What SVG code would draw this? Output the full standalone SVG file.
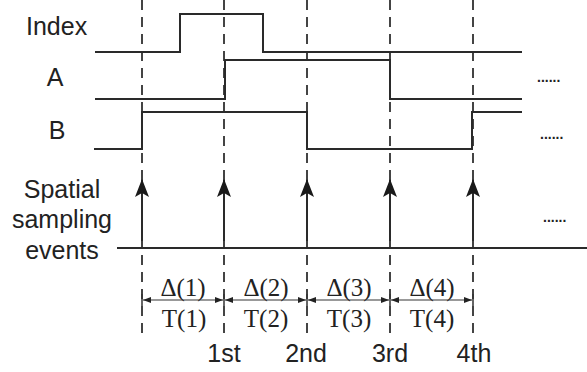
<svg xmlns="http://www.w3.org/2000/svg" width="587" height="372" viewBox="0 0 587 372">
<defs>
<style>
.lbl{font-family:"Liberation Sans",Arial,sans-serif;font-size:25px;fill:#222}
.math{font-family:"Liberation Serif","Times New Roman",serif;font-size:25px;fill:#222}
.dots{font-family:"Liberation Sans",Arial,sans-serif;font-size:14px;fill:#222;font-weight:bold}
.wave{fill:none;stroke:#2a2a2a;stroke-width:2}
.dash{stroke:#444;stroke-width:2;stroke-dasharray:10 7}
.arr{stroke:#2a2a2a;stroke-width:2}
.dim{stroke:#777;stroke-width:1.5}
.tick{stroke:#333;stroke-width:1.5}
</style>
<marker id="ah" viewBox="0 0 18 14" refX="17" refY="7" markerWidth="18" markerHeight="14" markerUnits="userSpaceOnUse" orient="auto">
<path d="M18 7 L0 0 L4 7 L0 14 Z" fill="#1a1a1a"/>
</marker>
<marker id="dh" viewBox="0 0 8 6" refX="8" refY="3" markerWidth="8" markerHeight="6" markerUnits="userSpaceOnUse" orient="auto-start-reverse">
<path d="M0 0 L8 3 L0 6 Z" fill="#222"/>
</marker>
</defs>
<rect width="587" height="372" fill="#fff"/>
<g id="guides">
<line class="dash" x1="142" y1="0" x2="142" y2="340"/>
<line class="dash" x1="224" y1="0" x2="224" y2="340"/>
<line class="dash" x1="307" y1="0" x2="307" y2="340"/>
<line class="dash" x1="390" y1="0" x2="390" y2="340"/>
<line class="dash" x1="473" y1="0" x2="473" y2="340"/>
</g>
<g id="index">
<text class="lbl" x="26" y="35">Index</text>
<polyline class="wave" points="95,52 180,52 180,14 263,14 263,52 522,52"/>
</g>
<g id="signalA">
<text class="lbl" x="55" y="86" text-anchor="middle">A</text>
<polyline class="wave" points="95,99 225,99 225,60 390,60 390,99 522,99"/>
<text class="dots" x="537" y="82">......</text>
</g>
<g id="signalB">
<text class="lbl" x="57" y="139" text-anchor="middle">B</text>
<polyline class="wave" points="94,149 142,149 142,112 307,112 307,149 472,149 472,112 522,112"/>
<text class="dots" x="540" y="139">......</text>
</g>
<g id="events">
<text class="lbl" x="62" y="198" text-anchor="middle">Spatial</text>
<text class="lbl" x="62" y="228" text-anchor="middle">sampling</text>
<text class="lbl" x="62" y="259" text-anchor="middle">events</text>
<line class="wave" x1="117" y1="248" x2="587" y2="248"/>
<text class="dots" x="543" y="222">......</text>
</g>
<g id="connectors">
<line class="arr" x1="142" y1="241" x2="142" y2="180" marker-end="url(#ah)"/>
<line class="arr" x1="224" y1="241" x2="224" y2="180" marker-end="url(#ah)"/>
<line class="arr" x1="307" y1="241" x2="307" y2="180" marker-end="url(#ah)"/>
<line class="arr" x1="390" y1="241" x2="390" y2="180" marker-end="url(#ah)"/>
<line class="arr" x1="473" y1="241" x2="473" y2="180" marker-end="url(#ah)"/>
<line class="dim" x1="143" y1="300" x2="223" y2="300" marker-start="url(#dh)" marker-end="url(#dh)"/>
<line class="dim" x1="225" y1="300" x2="306" y2="300" marker-start="url(#dh)" marker-end="url(#dh)"/>
<line class="dim" x1="308" y1="300" x2="389" y2="300" marker-start="url(#dh)" marker-end="url(#dh)"/>
<line class="dim" x1="391" y1="300" x2="472" y2="300" marker-start="url(#dh)" marker-end="url(#dh)"/>
<line class="tick" x1="142" y1="294" x2="142" y2="306"/>
<line class="tick" x1="224" y1="294" x2="224" y2="306"/>
<line class="tick" x1="307" y1="294" x2="307" y2="306"/>
<line class="tick" x1="390" y1="294" x2="390" y2="306"/>
<line class="tick" x1="473" y1="294" x2="473" y2="306"/>
</g>
<g id="intervals">
<text class="math" x="183" y="296" text-anchor="middle">Δ(1)</text>
<text class="math" x="184" y="327" text-anchor="middle">T(1)</text>
<text class="math" x="266" y="296" text-anchor="middle">Δ(2)</text>
<text class="math" x="266" y="327" text-anchor="middle">T(2)</text>
<text class="math" x="349" y="296" text-anchor="middle">Δ(3)</text>
<text class="math" x="349" y="327" text-anchor="middle">T(3)</text>
<text class="math" x="432" y="296" text-anchor="middle">Δ(4)</text>
<text class="math" x="432" y="327" text-anchor="middle">T(4)</text>
</g>
<g id="ordinals">
<text class="lbl" x="224" y="362" text-anchor="middle">1st</text>
<text class="lbl" x="306" y="362" text-anchor="middle">2nd</text>
<text class="lbl" x="390" y="362" text-anchor="middle">3rd</text>
<text class="lbl" x="474" y="362" text-anchor="middle">4th</text>
</g>
</svg>
